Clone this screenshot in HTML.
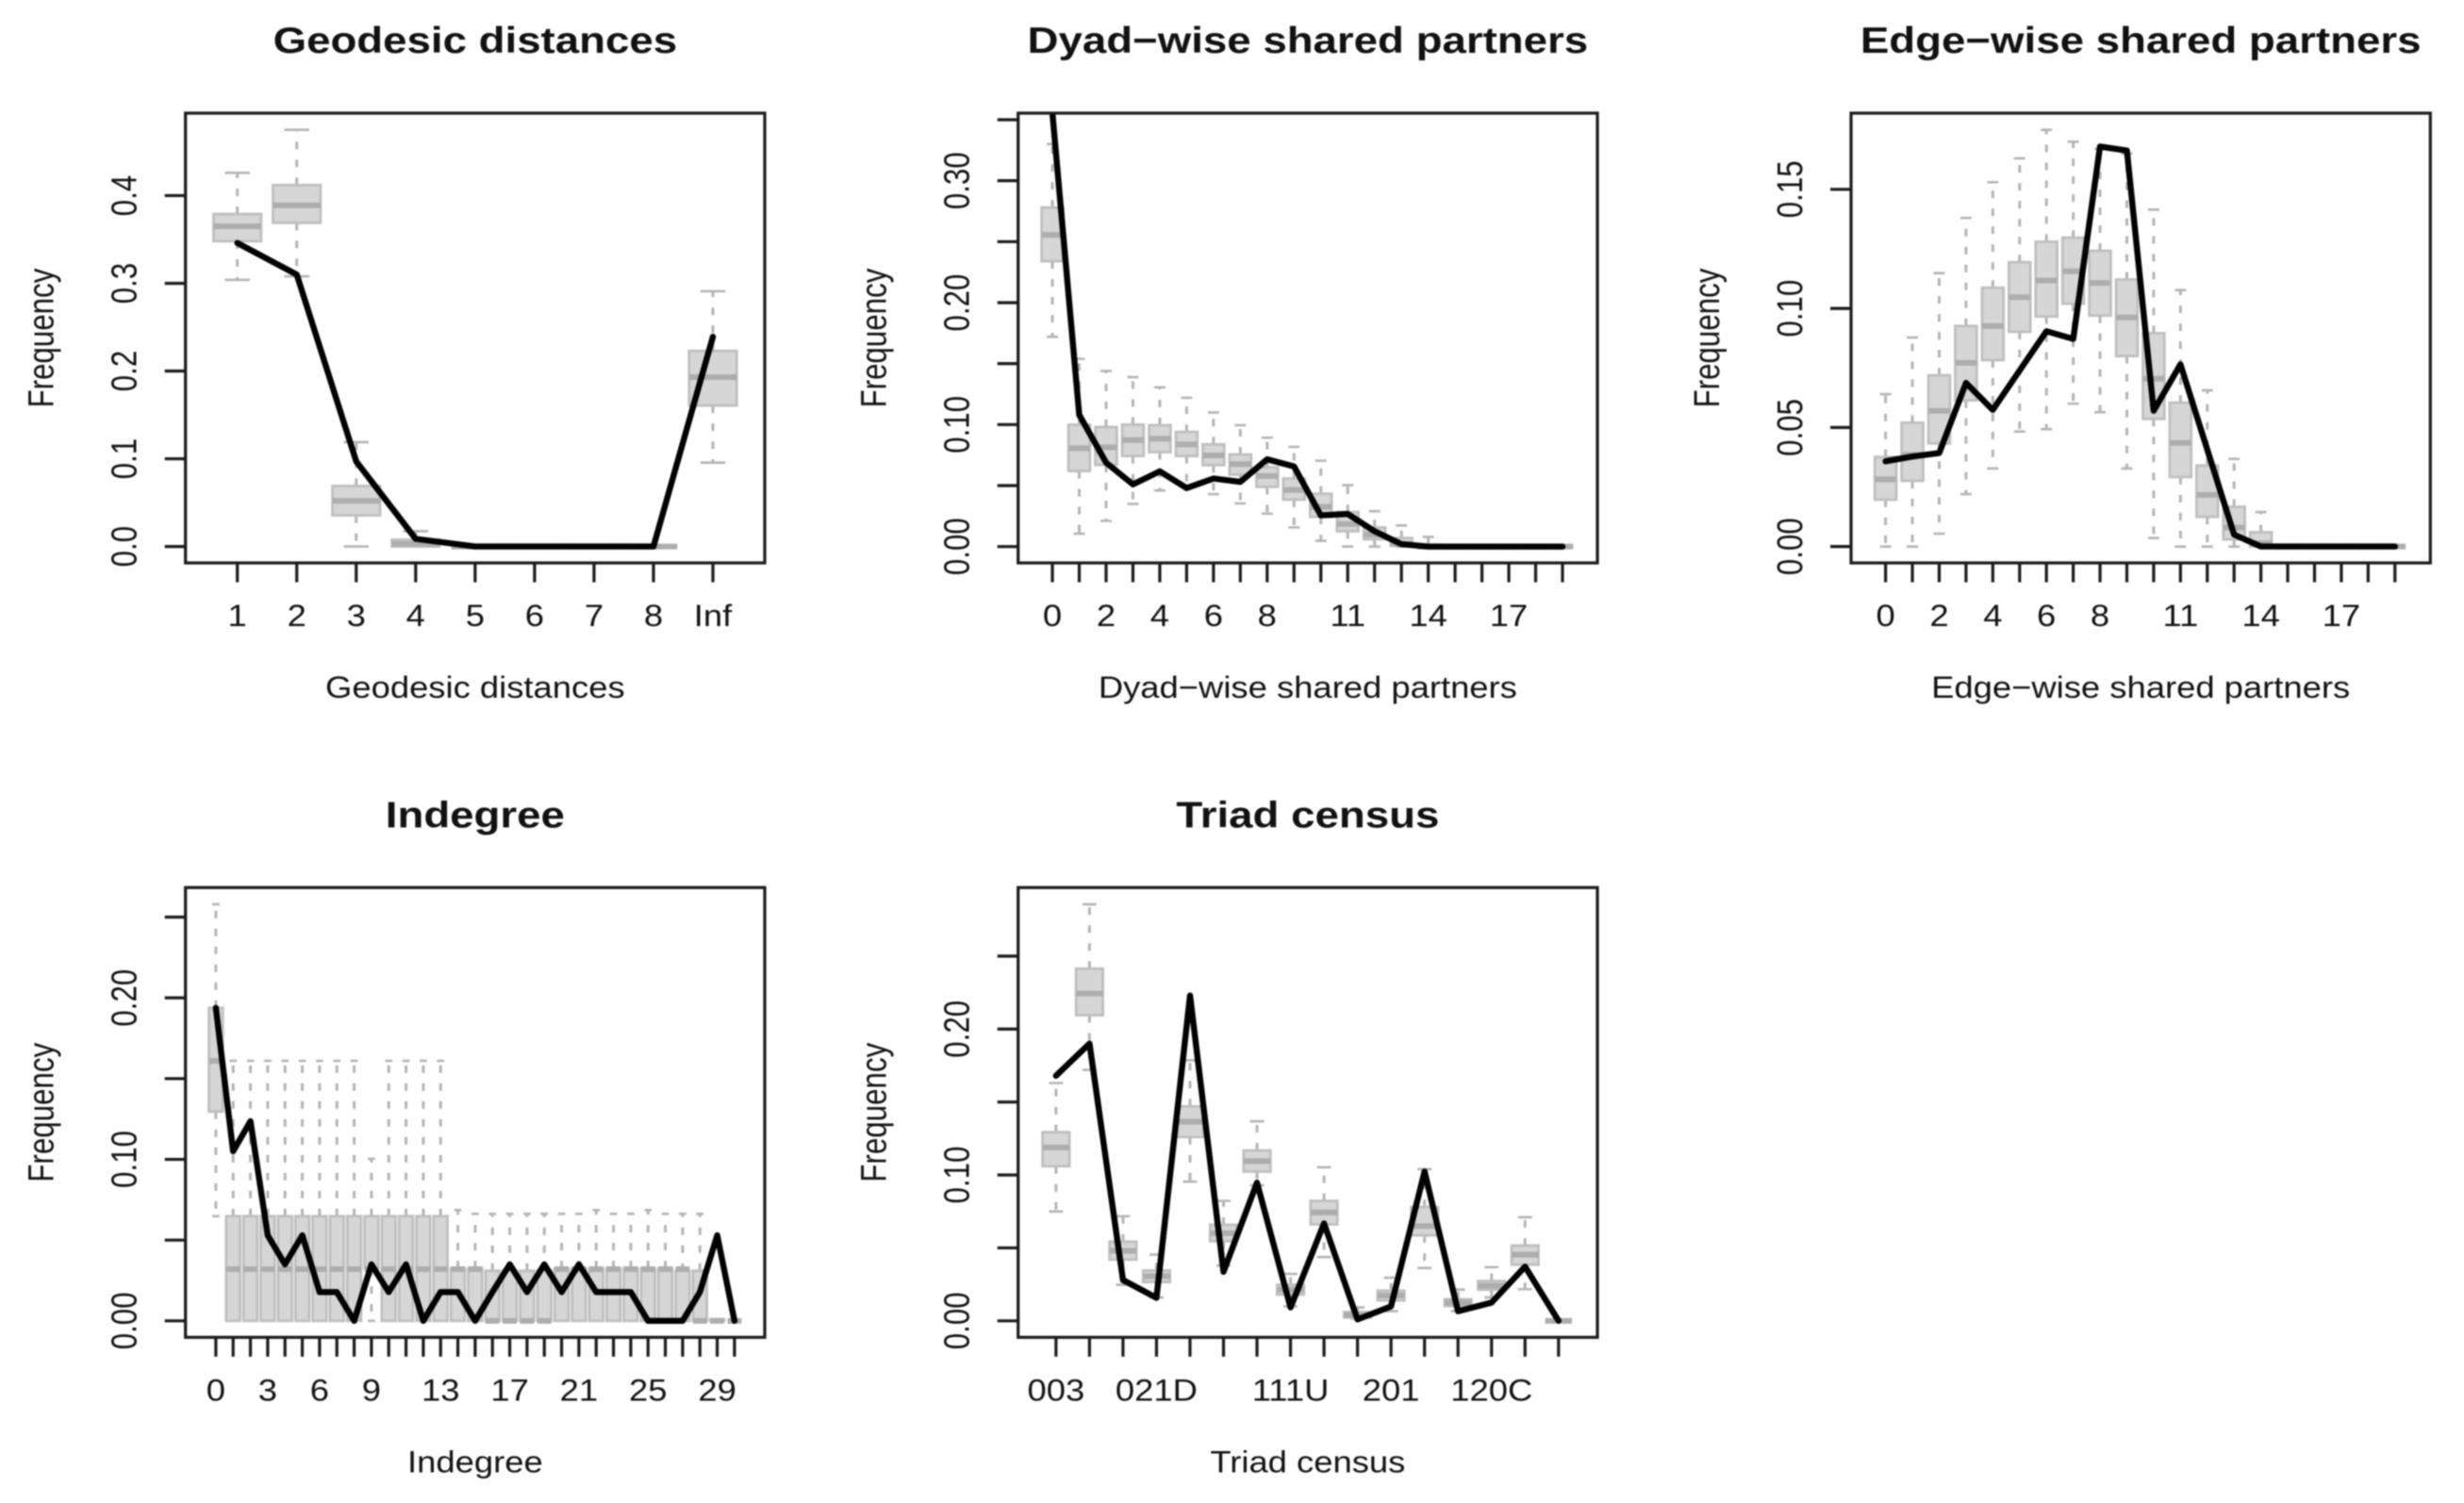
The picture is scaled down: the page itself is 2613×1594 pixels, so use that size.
<!DOCTYPE html>
<html lang="en">
<head>
<meta charset="utf-8">
<title>Goodness-of-fit diagnostics</title>
<style>
html,body{margin:0;padding:0;background:#fff;width:2613px;height:1594px;overflow:hidden}
#chart{display:block;filter:blur(0.9px)}
text{font-family:"Liberation Sans",Arial,sans-serif;fill:#111}
</style>
</head>
<body>
<svg id="chart" xmlns="http://www.w3.org/2000/svg" width="2613" height="1594" viewBox="0 0 2613 1594"></svg>
<script>
// ---------- Geodesic distances ----------
const geoCategories = ["1","2","3","4","5","6","7","8","Inf"];
const geoLow = [0.304,0.308,0,0,0,0,0,0,0.0956];
const geoQ1  = [0.348,0.369,0.0355,0,0,0,0,0,0.1607];
const geoMed = [0.365,0.389,0.052,0.003,0,0,0,0,0.193];
const geoQ3  = [0.379,0.412,0.069,0.0077,0,0,0,0,0.223];
const geoUp  = [0.426,0.475,0.119,0.0175,0,0,0,0,0.291];
const geoObs = [0.346,0.310,0.097,0.0087,0,0,0,0,0.239];
const geoYTicks = [0,0.1,0.2,0.3,0.4];
const geoYLabels = ["0.0","0.1","0.2","0.3","0.4"];

// ---------- Dyad-wise shared partners ----------
const dyadCategories = ["0","","2","","4","","6","","8","","","11","","","14","","","17","",""];
const dyadLow = [0.172,0.0106,0.021,0.035,0.046,0.05,0.043,0.0354,0.027,0.0157,0.0047,0,0,0,0,0,0,0,0,0];
const dyadQ1  = [0.234,0.062,0.067,0.0743,0.0775,0.0743,0.0668,0.059,0.049,0.0385,0.0244,0.0126,0.006,0.0008,0,0,0,0,0,0];
const dyadMed = [0.2556,0.0806,0.0814,0.0873,0.0885,0.0838,0.0747,0.0676,0.0578,0.0464,0.0326,0.0185,0.0098,0.002,0,0,0,0,0,0];
const dyadQ3  = [0.278,0.0999,0.098,0.1,0.0995,0.094,0.0838,0.0755,0.065,0.0558,0.0433,0.0283,0.0157,0.007,0.0015,0,0,0,0,0];
const dyadUp  = [0.33,0.154,0.144,0.139,0.1306,0.122,0.11,0.0995,0.0893,0.0818,0.0704,0.0503,0.029,0.0173,0.0079,0,0,0,0,0];
const dyadObs = [0.356,0.108,0.0688,0.051,0.0617,0.048,0.0558,0.053,0.0716,0.0657,0.0256,0.0267,0.0126,0.002,0,0,0,0,0,0];
const dyadYTicks = [0,0.05,0.1,0.15,0.2,0.25,0.3,0.35];
const dyadYLabels = ["0.00","","0.10","","0.20","","0.30",""];

// ---------- Edge-wise shared partners ----------
const edgeCategories = ["0","","2","","4","","6","","8","","","11","","","14","","","17","",""];
const edgeLow = [0,0,0.0054,0.022,0.0328,0.0483,0.0493,0.06,0.0564,0.0328,0.0036,0,0,0,0,0,0,0,0,0];
const edgeQ1  = [0.0197,0.0276,0.0433,0.0614,0.0783,0.0902,0.0966,0.102,0.097,0.08,0.0536,0.0292,0.0125,0.003,0,0,0,0,0,0];
const edgeMed = [0.0282,0.0385,0.057,0.0771,0.0926,0.1047,0.1117,0.1156,0.1107,0.0962,0.0705,0.0435,0.0217,0.008,0.0014,0,0,0,0,0];
const edgeQ3  = [0.0376,0.052,0.0719,0.0926,0.1087,0.1194,0.128,0.1297,0.1242,0.1121,0.0896,0.0604,0.034,0.0167,0.006,0,0,0,0,0];
const edgeUp  = [0.064,0.0878,0.1148,0.138,0.153,0.163,0.175,0.17,0.167,0.165,0.1415,0.1077,0.0656,0.0368,0.0145,0,0,0,0,0];
const edgeObs = [0.0358,0.0378,0.0393,0.0687,0.0574,0.0739,0.0904,0.0872,0.168,0.1663,0.057,0.0765,0.0407,0.005,0,0,0,0,0,0];
const edgeYTicks = [0,0.05,0.1,0.15];
const edgeYLabels = ["0.00","0.05","0.10","0.15"];

// ---------- Indegree ----------
const indegCategories = ["0","","","3","","","6","","","9","","","","13","","","","17","","","","21","","","","25","","","","29",""];
const indegLow = [0.0648,0,0,0,0,0,0,0,0,0,0,0,0,0,0,0,0,0,0,0,0,0,0,0,0,0,0,0,0,0,0];
const indegQ1  = [0.1296,0,0,0,0,0,0,0,0,0.0325,0,0,0,0,0,0,0,0,0,0,0,0,0,0,0,0,0,0,0,0,0];
const indegMed = [0.161,0.032,0.032,0.032,0.032,0.032,0.032,0.032,0.032,0.032,0.032,0.032,0.032,0.032,0.032,0.032,0,0,0,0,0.032,0.032,0.032,0.032,0.032,0.032,0.032,0.032,0,0,0];
const indegQ3  = [0.1938,0.0648,0.0648,0.0648,0.0648,0.0648,0.0648,0.0648,0.0648,0.0648,0.0648,0.0648,0.0648,0.0648,0.0325,0.0325,0.031,0.031,0.031,0.031,0.0325,0.0325,0.0325,0.0325,0.0325,0.0325,0.0325,0.031,0.031,0.001,0];
const indegUp  = [0.258,0.161,0.161,0.161,0.161,0.161,0.161,0.161,0.161,0.1004,0.161,0.161,0.161,0.161,0.0686,0.0663,0.0663,0.0663,0.0663,0.0663,0.0663,0.0663,0.0686,0.0663,0.0663,0.0686,0.0663,0.0663,0.0663,0.001,0];
const indegObs = [0.1938,0.105,0.1236,0.053,0.035,0.053,0.0178,0.0178,0,0.035,0.0178,0.035,0,0.0178,0.0178,0,0.0178,0.035,0.0178,0.035,0.0178,0.035,0.0178,0.0178,0.0178,0,0,0,0.0178,0.053,0];
const indegYTicks = [0,0.05,0.1,0.15,0.2,0.25];
const indegYLabels = ["0.00","","0.10","","0.20",""];

// ---------- Triad census ----------
const triadCategories = ["003","","","021D","","","","111U","","","201","","","120C","",""];
const triadLow = [0.075,0.172,0.0247,0.016,0.0954,0.038,0.093,0.0099,0.0437,0.0016,0.0066,0.0362,0.0066,0.016,0.0217,0];
const triadQ1  = [0.106,0.2095,0.042,0.0266,0.126,0.0546,0.1023,0.018,0.0661,0.0023,0.014,0.0586,0.0102,0.0214,0.0385,0];
const triadMed = [0.1188,0.2243,0.048,0.0306,0.1365,0.06,0.1095,0.0214,0.0743,0.004,0.0174,0.065,0.0125,0.024,0.0454,0];
const triadQ3  = [0.1293,0.2414,0.0543,0.0345,0.147,0.0658,0.1168,0.0247,0.0822,0.006,0.0207,0.078,0.0148,0.0273,0.0516,0];
const triadUp  = [0.163,0.2855,0.0717,0.0454,0.1786,0.0822,0.1368,0.0322,0.1053,0.0092,0.0296,0.104,0.0214,0.0368,0.071,0];
const triadObs = [0.168,0.19,0.028,0.0158,0.223,0.0336,0.0947,0.0092,0.0668,0.001,0.0099,0.1023,0.0066,0.0125,0.0372,0];
const triadYTicks = [0,0.05,0.1,0.15,0.2,0.25];
const triadYLabels = ["0.00","","0.10","","0.20",""];

const panels = [
  {key:"geodesic",title:"Geodesic distances",xTitle:"Geodesic distances",cats:geoCategories,low:geoLow,q1:geoQ1,med:geoMed,q3:geoQ3,up:geoUp,obs:geoObs,yTicks:geoYTicks,yLabels:geoYLabels,
   box:[196.7,120,811,597],xlim:[-0.872,8.872],ylim:[-0.0187,0.494]},
  {key:"dyad",title:"Dyad\u2212wise shared partners",xTitle:"Dyad\u2212wise shared partners",cats:dyadCategories,low:dyadLow,q1:dyadQ1,med:dyadMed,q3:dyadQ3,up:dyadUp,obs:dyadObs,yTicks:dyadYTicks,yLabels:dyadYLabels,
   box:[1079.7,120,1694,597],xlim:[-1.276,20.3],ylim:[-0.0134,0.3554]},
  {key:"edge",title:"Edge\u2212wise shared partners",xTitle:"Edge\u2212wise shared partners",cats:edgeCategories,low:edgeLow,q1:edgeQ1,med:edgeMed,q3:edgeQ3,up:edgeUp,obs:edgeObs,yTicks:edgeYTicks,yLabels:edgeYLabels,
   box:[1963,120,2577.3,597],xlim:[-1.287,20.32],ylim:[-0.00687,0.182]},
  {key:"indegree",title:"Indegree",xTitle:"Indegree",cats:indegCategories,low:indegLow,q1:indegQ1,med:indegMed,q3:indegQ3,up:indegUp,obs:indegObs,yTicks:indegYTicks,yLabels:indegYLabels,
   box:[196.7,941.3,811,1418.3],xlim:[-1.756,31.75],ylim:[-0.0102,0.2683]},
  {key:"triad",title:"Triad census",xTitle:"Triad census",cats:triadCategories,low:triadLow,q1:triadQ1,med:triadMed,q3:triadQ3,up:triadUp,obs:triadObs,yTicks:triadYTicks,yLabels:triadYLabels,
   box:[1079.7,941.3,1694,1418.3],xlim:[-1.13,16.16],ylim:[-0.0113,0.297]}
];

const NS = "http://www.w3.org/2000/svg";
const root = document.getElementById("chart");
const INK = "#1a1a1a";
const FILL = "#d6d6d6";
const EDGE = "#bfbfbf";
const MEDIAN = "#adadad";
const WHISK = "#b4b4b4";

function make(parent, tag, name, props) {
  const el = document.createElementNS(NS, tag);
  
  
  for (const k in props) el.setAttribute(k, props[k]);
  parent.appendChild(el);
  return el;
}
function seg(parent, name, x1, y1, x2, y2, stroke, width, dash) {
  const p = {x1:x1, y1:y1, x2:x2, y2:y2, stroke:stroke, "stroke-width":width};
  if (dash) p["stroke-dasharray"] = dash;
  return make(parent, "line", name, p);
}
function label(parent, name, str, x, y, size, k, bold, rotated) {
  const tf = "translate(" + x + "," + y + ") scale(" + k + ",1)" + (rotated ? " rotate(-90)" : "");
  const t = make(parent, "text", name, {transform:tf, "text-anchor":"middle", "font-size":size, "font-weight":bold ? "bold" : "normal"});
  t.textContent = str;
  return t;
}

panels.forEach(function (P) {
  const L = P.box[0], T = P.box[1], R = P.box[2], B = P.box[3];
  const sx = function (v) { return L + (v - P.xlim[0]) / (P.xlim[1] - P.xlim[0]) * (R - L); };
  const sy = function (v) { return B - (v - P.ylim[0]) / (P.ylim[1] - P.ylim[0]) * (B - T); };
  const g = make(root, "g", P.key + "-panel", {});

  const clipId = "clip-" + P.key;
  const cp = make(g, "clipPath", P.key + "-clip", {id:clipId});
  make(cp, "rect", P.key + "-clip-rect", {x:L, y:T, width:R - L, height:B - T});

  // boxes
  const boxes = make(g, "g", P.key + "-boxplots", {"clip-path":"url(#" + clipId + ")"});
  const boxW = (sx(0.8) - sx(0));
  const capW = (sx(0.42) - sx(0));
  P.cats.forEach(function (c, i) {
    const cx = sx(i);
    const b = make(boxes, "g", "box-" + i, {});
    if (P.up[i] > P.q3[i]) {
      seg(b, "upper-whisker", cx, sy(P.q3[i]), cx, sy(P.up[i]), WHISK, 3, "8 11");
      seg(b, "upper-cap", cx - capW / 2, sy(P.up[i]), cx + capW / 2, sy(P.up[i]), WHISK, 2.6);
    }
    if (P.low[i] < P.q1[i]) {
      seg(b, "lower-whisker", cx, sy(P.q1[i]), cx, sy(P.low[i]), WHISK, 3, "8 11");
      seg(b, "lower-cap", cx - capW / 2, sy(P.low[i]), cx + capW / 2, sy(P.low[i]), WHISK, 2.6);
    }
    make(b, "rect", "box-body", {
      x:cx - boxW / 2, y:sy(P.q3[i]), width:boxW, height:Math.max(0, sy(P.q1[i]) - sy(P.q3[i])),
      fill:FILL, stroke:EDGE, "stroke-width":2.8
    });
    seg(b, "box-median", cx - boxW / 2, sy(P.med[i]), cx + boxW / 2, sy(P.med[i]), MEDIAN, 6);
  });

  // observed line
  const pts = P.obs.map(function (v, i) { return sx(i).toFixed(1) + "," + sy(v).toFixed(1); }).join(" ");
  make(g, "polyline", P.key + "-observed-line", {
    points:pts, fill:"none", stroke:"#000", "stroke-width":6.4,
    "stroke-linejoin":"round", "stroke-linecap":"round", "clip-path":"url(#" + clipId + ")"
  });

  // frame
  make(g, "rect", P.key + "-plot-frame", {x:L, y:T, width:R - L, height:B - T, fill:"none", stroke:INK, "stroke-width":3.2});

  // x axis
  const xAxis = make(g, "g", P.key + "-x-axis", {});
  P.cats.forEach(function (c, i) {
    seg(xAxis, "x-tick", sx(i), B, sx(i), B + 20.5, INK, 3.2);
    if (c !== "") label(xAxis, "x-tick-label", c, sx(i), B + 67, 32.5, 1.12, false, false);
  });
  label(xAxis, "x-axis-title", P.xTitle, (L + R) / 2, B + 143, 32.5, 1.12, false, false);

  // y axis
  const yAxis = make(g, "g", P.key + "-y-axis", {});
  P.yTicks.forEach(function (v, i) {
    seg(yAxis, "y-tick", L - 22, sy(v), L, sy(v), INK, 3.2);
    if (P.yLabels[i] !== "") label(yAxis, "y-tick-label", P.yLabels[i], L - 52, sy(v), 31.3, 1.2, false, true);
  });
  label(yAxis, "y-axis-title", "Frequency", L - 140, (T + B) / 2, 31.3, 1.2, false, true);

  // title
  label(g, P.key + "-title", P.title, (L + R) / 2, T - 64, 39, 1.17, true, false);
});
</script>
</body>
</html>
